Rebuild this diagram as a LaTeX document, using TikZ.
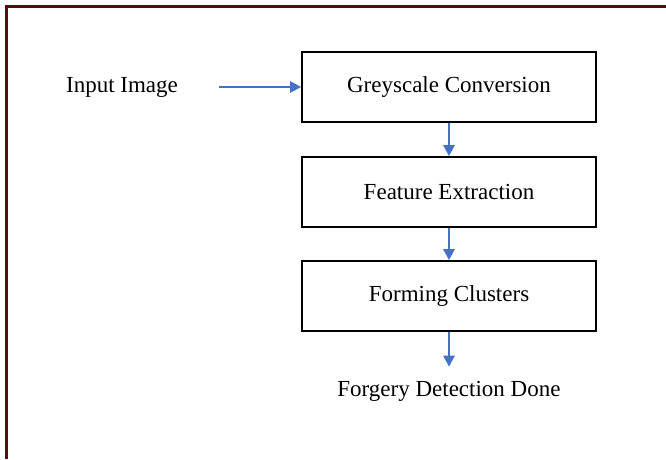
\documentclass[tikz,border=0pt]{standalone}
\usepackage{fontspec}
\setmainfont{Liberation Serif}
\usetikzlibrary{arrows.meta}
\definecolor{flowblue}{HTML}{4472C4}
\definecolor{framered}{HTML}{5C0A0A}

\begin{document}
\begin{tikzpicture}[x=1pt, y=-1pt,
  stepbox/.style={draw=black, line width=1.6pt, minimum width=294pt, minimum height=70pt, inner sep=0pt, font=\fontsize{23}{27}\selectfont},
  label/.style={font=\fontsize{23}{27}\selectfont, inner sep=0pt},
  flow/.style={flowblue, line width=2.4pt, -{Triangle[length=11pt, width=11pt]}}]
\useasboundingbox (0,0) rectangle (666,459);

% frame
\draw[framered, line width=2.6pt] (6.7,459) -- (6.7,6.7) -- (666,6.7);

\node[label] (input) at (122,87) {Input Image};
\node[stepbox] (grey) at (449,87) {Greyscale Conversion};
\node[stepbox] (feat) at (449,192) {Feature Extraction};
\node[stepbox] (clust) at (449,296) {Forming Clusters};
\node[label] (done) at (449,391) {Forgery Detection Done};

\draw[flow, shorten <=41pt] (input.east) -- (grey.west);
\draw[flow] (grey) -- (feat);
\draw[flow] (feat) -- (clust);
\draw[flow, shorten >=14pt] (clust) -- (done);
\end{tikzpicture}
\end{document}
